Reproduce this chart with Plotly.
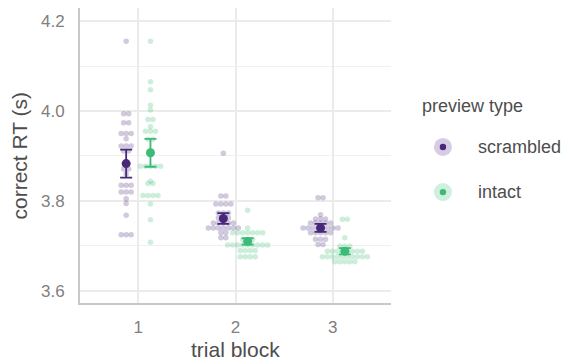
import plotly.graph_objects as go
from collections import defaultdict

# ---------------- data ----------------
blocks = [1, 2, 3]
block_labels = ["1", "2", "3"]
type_names = ["scrambled", "intact"]

scr_b1 = [4.155, 3.994, 3.994, 3.974, 3.974, 3.950, 3.950, 3.950, 3.938,
          3.922, 3.922, 3.922, 3.911, 3.911, 3.871, 3.871, 3.860,
          3.835, 3.835, 3.835, 3.820, 3.820, 3.820, 3.805, 3.794, 3.768,
          3.725, 3.725, 3.725]
scr_b2 = [3.906, 3.811, 3.811, 3.793, 3.793, 3.793, 3.793, 3.773, 3.773, 3.773,
          3.762, 3.762, 3.762, 3.751, 3.751, 3.751, 3.751, 3.751,
          3.740, 3.740, 3.740, 3.740, 3.740, 3.740, 3.740,
          3.729, 3.729, 3.718, 3.718]
scr_b3 = [3.807, 3.807, 3.769, 3.760, 3.760, 3.760, 3.751, 3.751, 3.751, 3.751, 3.751,
          3.740, 3.740, 3.740, 3.740, 3.740, 3.740, 3.740, 3.740,
          3.729, 3.729, 3.729, 3.729, 3.729, 3.715, 3.715, 3.715, 3.703, 3.703]

int_b1 = [4.155, 4.065, 4.047, 4.013, 4.002, 3.981, 3.981, 3.965,
          3.955, 3.955, 3.955, 3.937, 3.937, 3.907,
          3.877, 3.877, 3.877, 3.877, 3.877, 3.844, 3.839, 3.839,
          3.812, 3.812, 3.812, 3.812, 3.793, 3.758, 3.708]
int_b2 = [3.779, 3.740, 3.729, 3.729, 3.729, 3.729, 3.729, 3.729, 3.729,
          3.714, 3.714, 3.714,
          3.702, 3.702, 3.702, 3.702, 3.702, 3.702, 3.702, 3.702, 3.702,
          3.690, 3.690, 3.690, 3.690, 3.676, 3.676, 3.676, 3.676]
int_b3 = [3.759, 3.759, 3.718, 3.699, 3.699, 3.699,
          3.688, 3.688, 3.688, 3.688, 3.688, 3.688, 3.688, 3.688,
          3.676, 3.676, 3.676, 3.676, 3.676, 3.676, 3.676, 3.676, 3.676, 3.676,
          3.665, 3.665, 3.665, 3.665, 3.665]

scr_mean = [3.883, 3.761, 3.740]
scr_err = [0.031, 0.012, 0.009]
int_mean = [3.907, 3.710, 3.688]
int_err = [0.031, 0.007, 0.007]

# ---------------- styling ----------------
dark = {"scrambled": "rgb(71,40,120)", "intact": "rgb(59,187,117)"}
light = {"scrambled": "rgba(71,40,120,0.25)", "intact": "rgba(59,187,117,0.25)"}
key_light = {"scrambled": "rgb(214,204,228)", "intact": "rgb(206,240,220)"}
dodge = {"scrambled": -0.125, "intact": 0.125}
SWARM_STEP = 0.0515
FONT = "Liberation Sans, Arial, Helvetica, sans-serif"


def swarm_offsets(values, step):
    groups = defaultdict(list)
    for i, v in enumerate(values):
        groups[round(v, 3)].append(i)
    offs = [0.0] * len(values)
    for idxs in groups.values():
        n = len(idxs)
        for k, i in enumerate(idxs):
            offs[i] = (k - (n - 1) / 2) * step
    return offs


series = {
    "scrambled": [scr_b1, scr_b2, scr_b3],
    "intact": [int_b1, int_b2, int_b3],
}
means = {"scrambled": (scr_mean, scr_err), "intact": (int_mean, int_err)}

fig = go.Figure()

for t in type_names:
    xs, ys = [], []
    for b, vals in zip(blocks, series[t]):
        offs = swarm_offsets(vals, SWARM_STEP)
        xs += [b + dodge[t] + o for o in offs]
        ys += vals
    fig.add_trace(go.Scatter(
        x=xs, y=ys, mode="markers", showlegend=False, hoverinfo="skip",
        marker=dict(size=5.5, color=light[t], line=dict(width=0)),
    ))

for t in type_names:
    m, e = means[t]
    fig.add_trace(go.Scatter(
        x=[b + dodge[t] for b in blocks], y=m, mode="markers", showlegend=False,
        marker=dict(size=9, color=dark[t]),
        error_y=dict(type="data", array=e, visible=True, color=dark[t],
                     thickness=1.8, width=6),
    ))

# ---------------- manual legend ----------------
key_y = {"scrambled": 0.529, "intact": 0.376}
for t in type_names:
    fig.add_shape(type="circle", xref="paper", yref="paper",
                  xsizemode="pixel", ysizemode="pixel",
                  xanchor=1.167, yanchor=key_y[t],
                  x0=-9, x1=9, y0=-9, y1=9,
                  fillcolor=key_light[t], line=dict(width=0))
    fig.add_shape(type="circle", xref="paper", yref="paper",
                  xsizemode="pixel", ysizemode="pixel",
                  xanchor=1.167, yanchor=key_y[t],
                  x0=-3.2, x1=3.2, y0=-3.2, y1=3.2,
                  fillcolor=dark[t], line=dict(width=0))
    fig.add_annotation(text=t, xref="paper", yref="paper", x=1.272, y=key_y[t],
                       xanchor="left", yanchor="middle", showarrow=False,
                       font=dict(size=18, color="#4d4d4d", family=FONT))
fig.add_annotation(text="preview type", xref="paper", yref="paper", x=1.092, y=0.668,
                   xanchor="left", yanchor="middle", showarrow=False,
                   font=dict(size=18, color="#4d4d4d", family=FONT))

# axis titles
fig.add_annotation(text="trial block", xref="paper", yref="paper", x=0.5, y=-0.159,
                   xanchor="center", yanchor="middle", showarrow=False,
                   font=dict(size=21, color="#4d4d4d", family=FONT))
fig.add_annotation(text="correct RT (s)", xref="paper", yref="paper", x=-0.193, y=0.5,
                   xanchor="center", yanchor="middle", textangle=-90, showarrow=False,
                   font=dict(size=21, color="#4d4d4d", family=FONT))

# the page body adds an 8 px offset, so margins are reduced by 8 px on left/top
fig.update_layout(
    width=569, height=362,
    margin=dict(l=72, r=186, t=0, b=67),
    paper_bgcolor="white", plot_bgcolor="white",
    showlegend=False,
    font=dict(family=FONT),
    xaxis=dict(
        range=[0.4, 3.6], tickmode="array", tickvals=blocks, ticktext=block_labels,
        showgrid=True, gridcolor="#ebebeb", gridwidth=1.5, zeroline=False,
        showline=True, linecolor="#c8c8c8", linewidth=2,
        ticks="outside", ticklen=8, tickcolor="rgba(0,0,0,0)",
        tickfont=dict(size=17, color="#808080", family=FONT),
    ),
    yaxis=dict(
        range=[3.573, 4.229], tick0=3.6, dtick=0.2, tickformat=".1f",
        showgrid=True, gridcolor="#ebebeb", gridwidth=1.5, zeroline=False,
        showline=True, linecolor="#c8c8c8", linewidth=2,
        ticks="outside", ticklen=10, tickcolor="rgba(0,0,0,0)",
        tickfont=dict(size=17, color="#808080", family=FONT),
        minor=dict(dtick=0.1, tick0=3.6, showgrid=True, gridcolor="#f0f0f0", gridwidth=1),
    ),
)

fig.write_html("out.html")
